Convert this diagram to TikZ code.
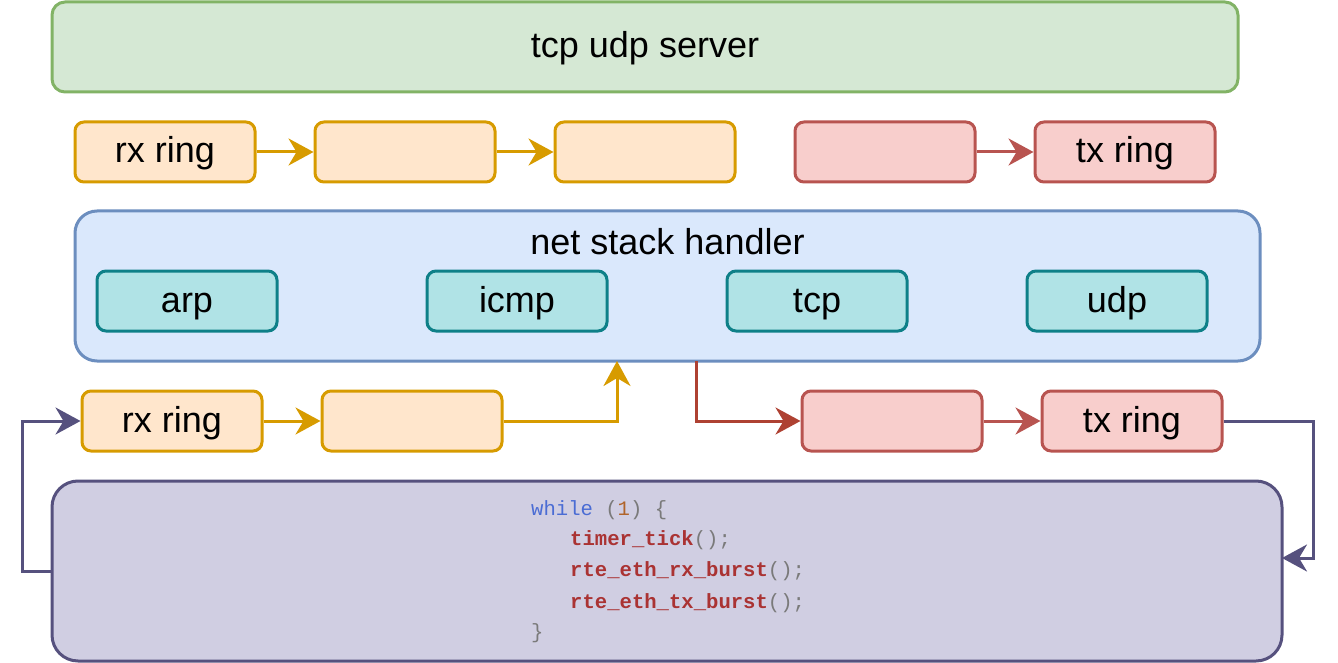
\documentclass[tikz,border=0pt]{standalone}
\usepackage{fontspec}
\setmainfont{Liberation Sans}
\newfontfamily\codefont{Liberation Mono}
\usetikzlibrary{arrows.meta}
\definecolor{gfill}{HTML}{D5E8D4}\definecolor{gline}{HTML}{82B366}
\definecolor{ofill}{HTML}{FFE6CC}\definecolor{oline}{HTML}{D79B00}
\definecolor{rfill}{HTML}{F8CECC}\definecolor{rline}{HTML}{B85450}
\definecolor{bfill}{HTML}{DAE8FC}\definecolor{bline}{HTML}{6C8EBF}
\definecolor{tfill}{HTML}{B0E3E6}\definecolor{tline}{HTML}{0E8088}
\definecolor{pfill}{HTML}{D0CEE2}\definecolor{pline}{HTML}{56517E}
\definecolor{kw}{HTML}{4A6CD4}\definecolor{num}{HTML}{B0642A}
\definecolor{fn}{HTML}{AA3333}\definecolor{pun}{HTML}{7A7A7A}
\definecolor{rarrow}{HTML}{AE4132}
\begin{document}
\begin{tikzpicture}[x=1pt,y=-1pt,
  lbl/.style={font=\fontsize{36}{40}\selectfont,text height=26pt,text depth=4pt},
  box/.style={rectangle,line width=3pt,minimum width=180pt,minimum height=60pt,rounded corners=9pt,inner sep=0pt,lbl},
  obox/.style={box,fill=ofill,draw=oline},
  rbox/.style={box,fill=rfill,draw=rline},
  tbox/.style={box,fill=tfill,draw=tline},
  tip/.style={-{Triangle[length=25pt,width=27pt,inset=8pt]}},
  oarr/.style={tip,draw=oline,line width=3pt},
  rarr/.style={tip,draw=rline,line width=3pt},
  rarr2/.style={tip,draw=rarrow,line width=3pt},
  parr/.style={tip,draw=pline,line width=3pt},
  code/.style={anchor=west,inner sep=0pt,font=\codefont\fontsize{20.6}{24}\selectfont}
]
\useasboundingbox (0,0) rectangle (1338,663);
% top server
\node[rectangle,fill=gfill,draw=gline,line width=3pt,rounded corners=13pt,minimum width=1186pt,minimum height=90pt,inner sep=0pt,lbl] (srv) at (645,47) {tcp udp server};
% top rings
\node[obox] (rx1) at (165,152) {rx ring};
\node[obox] (o2) at (405,152) {};
\node[obox] (o3) at (645,152) {};
\node[rbox] (r1) at (885,152) {};
\node[rbox] (tx1) at (1125,152) {tx ring};
\draw[oarr] (rx1) -- (o2);
\draw[oarr] (o2) -- (o3);
\draw[rarr] (r1) -- (tx1);
% net stack handler
\node[rectangle,fill=bfill,draw=bline,line width=3pt,rounded corners=22pt,minimum width=1185pt,minimum height=150pt] (ns) at (667.5,286) {};
\node[lbl,inner sep=0pt] (nslbl) at (667.5,243) {net stack handler};
\node[tbox] (arp) at (187,301) {arp};
\node[tbox] (icmp) at (517,301) {icmp};
\node[tbox] (tcp) at (817,301) {tcp};
\node[tbox] (udp) at (1117,301) {udp};
% bottom rings
\node[obox] (rx2) at (172,421) {rx ring};
\node[obox] (o5) at (412,421) {};
\node[rbox] (r2) at (892,421) {};
\node[rbox] (tx2) at (1132,421) {tx ring};
\coordinate (nsin) at (617,361);
\coordinate (nsout) at (696,361);
\draw[oarr] (rx2) -- (o5);
\draw[oarr] (o5.east) -| (nsin);
\draw[rarr2] (nsout) |- (r2.west);
\draw[rarr] (r2) -- (tx2);
% loop box
\node[rectangle,fill=pfill,draw=pline,line width=3pt,rounded corners=26pt,minimum width=1230pt,minimum height=180pt] (loop) at (667,571) {};
\node[code,text=kw] (c1) at (531,510) {while {\color{pun}(}{\color{num}1}{\color{pun}) \{}};
\node[code,text=fn] (c2) at (570,540) {\bfseries timer\_tick{\mdseries\color{pun}();}};
\node[code,text=fn] (c3) at (570,571) {\bfseries rte\_eth\_rx\_burst{\mdseries\color{pun}();}};
\node[code,text=fn] (c4) at (570,603) {\bfseries rte\_eth\_tx\_burst{\mdseries\color{pun}();}};
\node[code,text=pun] (c5) at (531,633) {\}};
\coordinate (lc) at (22,571);
\coordinate (rc) at (1313,558);
\coordinate (pin) at (1282,558);
\draw[parr] (loop.west) -- (lc) |- (rx2.west);
\draw[parr] (tx2.east) -| (rc) -- (pin);
\end{tikzpicture}
\end{document}
